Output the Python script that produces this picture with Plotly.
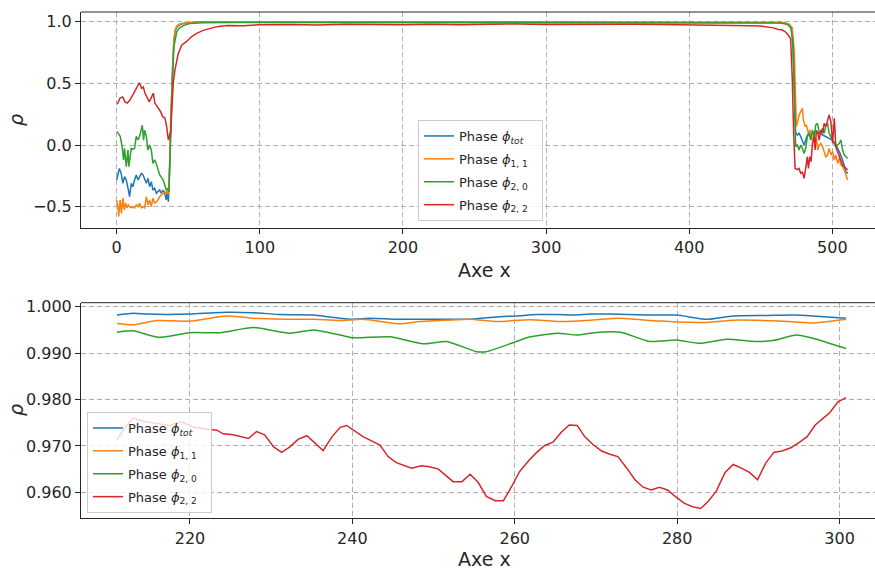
import plotly.graph_objects as go

# ---------------- data ----------------
series_names = ["Phase <i>ϕ</i><sub><i>tot</i></sub>\u00a0\u00a0",
                "Phase <i>ϕ</i><sub>1, 1</sub>\u00a0\u00a0",
                "Phase <i>ϕ</i><sub>2, 0</sub>\u00a0\u00a0",
                "Phase <i>ϕ</i><sub>2, 2</sub>\u00a0\u00a0"]
colors = ["#1f77b4", "#ff7f0e", "#2ca02c", "#d62728"]

top_blue = [(0, -0.284), (0.8, -0.24), (1.9, -0.19), (3.1, -0.23), (4.3, -0.31), (5.5, -0.257), (6.7, -0.284),
            (7.9, -0.35), (9.0, -0.418), (10.2, -0.31), (11.3, -0.338), (12.5, -0.284), (13.7, -0.243),
            (14.9, -0.284), (16.0, -0.257), (17.2, -0.23), (18.4, -0.243), (19.5, -0.27), (20.7, -0.31),
            (21.9, -0.27), (23.0, -0.338), (24.2, -0.297), (25.3, -0.365), (26.5, -0.35), (27.7, -0.392),
            (28.8, -0.378), (30.0, -0.365), (31.1, -0.39), (32.3, -0.365), (33.5, -0.39), (34.6, -0.445),
            (35.3, -0.38), (36.1, -0.46), (37, -0.2), (38, 0.25), (39, 0.62), (40, 0.85), (41, 0.93),
            (42, 0.955), (44, 0.975), (47, 0.988), (52, 0.994), (60, 0.997), (80, 0.998), (120, 0.998),
            (160, 0.998), (200, 0.998), (250, 0.998), (300, 0.998), (350, 0.998), (400, 0.998), (440, 0.997),
            (460, 0.996), (465, 0.993), (468, 0.988), (470, 0.975), (471.5, 0.94), (472.5, 0.8), (473.5, 0.45),
            (474.4, 0.1), (475.6, 0.081), (476.8, 0.095), (477.9, 0.068), (479.1, 0.027), (480.3, 0.0),
            (481.4, 0.041), (482.6, 0.081), (483.7, 0.095), (484.9, 0.068), (486.1, 0.095), (488.4, 0.108),
            (490.8, 0.095), (493.2, 0.081), (495.5, 0.068), (497.8, 0.054), (500.2, 0.041), (502.5, 0.0),
            (504.9, -0.054), (507.2, -0.122), (509.5, -0.216), (511, -0.23)]

top_orange = [(0, -0.446), (0.8, -0.5), (1.4, -0.58), (2.4, -0.446), (3.3, -0.553), (4.3, -0.43), (5.3, -0.527),
              (6.2, -0.47), (7.1, -0.51), (8.1, -0.486), (9.0, -0.5), (10.2, -0.51), (11.3, -0.5), (12.5, -0.51),
              (13.7, -0.486), (14.9, -0.5), (16.0, -0.473), (17.2, -0.51), (18.4, -0.5), (19.5, -0.51),
              (20.7, -0.42), (21.9, -0.486), (23.0, -0.446), (24.2, -0.5), (25.3, -0.43), (26.5, -0.47),
              (27.7, -0.46), (28.8, -0.446), (30.0, -0.42), (31.1, -0.405), (32.3, -0.392), (33.5, -0.378),
              (34.6, -0.392), (35.3, -0.365), (36.1, -0.4), (37, -0.15), (38, 0.3), (39, 0.65), (40, 0.87),
              (41, 0.94), (42, 0.965), (44, 0.982), (48, 0.99), (55, 0.995), (70, 0.997), (120, 0.997),
              (200, 0.997), (300, 0.997), (400, 0.997), (450, 0.996), (462, 0.994), (467, 0.99), (470, 0.98),
              (472, 0.95), (473.5, 0.75), (474.4, 0.35), (474.9, 0.15), (475.6, 0.176), (476.8, 0.243),
              (477.9, 0.27), (479.1, 0.297), (479.8, 0.203), (481.0, 0.149), (481.9, 0.162), (483.3, 0.095),
              (484.3, 0.122), (485.6, 0.04), (486.6, 0.068), (488.0, -0.014), (488.9, 0.054), (489.9, -0.041),
              (490.8, 0.0), (492.0, 0.014), (493.2, -0.014), (494.3, -0.054), (495.5, -0.095), (496.7, -0.081),
              (497.8, -0.027), (499.0, -0.081), (500.2, -0.054), (501.4, -0.122), (502.5, -0.081),
              (503.7, -0.149), (504.9, -0.108), (506.0, -0.162), (507.2, -0.176), (508.4, -0.203),
              (509.5, -0.243), (510.7, -0.284)]

top_green = [(0, 0.108), (0.8, 0.1), (2.4, 0.07), (3.8, -0.01), (4.8, -0.12), (5.5, -0.027), (6.7, -0.175),
             (7.9, -0.04), (8.5, -0.175), (10.2, -0.027), (11.3, -0.035), (12.5, -0.027), (13.7, 0.07),
             (14.9, 0.041), (16.0, 0.07), (17.2, 0.149), (17.9, 0.16), (18.8, 0.04), (19.5, 0.12), (20.7, 0.07),
             (21.8, -0.04), (23.0, 0.0), (24.2, -0.04), (25.3, -0.15), (26.5, -0.12), (27.6, -0.15), (28.8, -0.2),
             (30.0, -0.24), (31.1, -0.26), (32.3, -0.28), (33.5, -0.32), (34.6, -0.365), (35.8, -0.35),
             (36.5, -0.38), (37.2, -0.1), (38, 0.3), (39, 0.55), (40, 0.8), (41, 0.88), (42, 0.92), (44, 0.95),
             (47, 0.97), (51, 0.985), (60, 0.991), (80, 0.993), (150, 0.993), (250, 0.993), (350, 0.993),
             (430, 0.993), (455, 0.992), (462, 0.99), (466, 0.985), (469, 0.975), (471, 0.95), (472.5, 0.85),
             (473.5, 0.45), (474.4, -0.014), (475.6, 0.0), (476.8, -0.041), (477.9, 0.0), (479.1, -0.027),
             (480.3, -0.068), (481.4, -0.027), (482.6, 0.068), (483.7, 0.095), (484.9, 0.041), (486.1, 0.122),
             (487.3, 0.054), (488.4, 0.162), (489.6, 0.176), (490.8, 0.108), (492.0, 0.095), (493.2, 0.135),
             (494.3, 0.095), (495.5, 0.162), (496.7, 0.176), (497.8, 0.095), (499.0, 0.068), (500.2, 0.041),
             (502.5, -0.014), (504.9, 0.014), (506.0, 0.041), (507.2, -0.041), (508.4, -0.081), (509.5, -0.095),
             (510.7, -0.108)]

top_red = [(0.4, 0.33), (2.3, 0.38), (4.2, 0.39), (5.8, 0.35), (7.4, 0.34), (9.3, 0.365), (11.2, 0.405),
           (12.8, 0.44), (14.4, 0.47), (15.8, 0.505), (17.4, 0.46), (18.6, 0.47), (19.8, 0.42), (20.9, 0.39),
           (22.8, 0.35), (24.4, 0.39), (25.6, 0.42), (26.7, 0.34), (28.4, 0.31), (29.8, 0.28), (30.7, 0.27),
           (32.1, 0.23), (33.7, 0.22), (34.9, 0.15), (36.1, 0.04), (37.7, 0.11), (38.5, 0.3), (39.5, 0.5),
           (40.7, 0.61), (43.0, 0.74), (45.4, 0.81), (48.9, 0.84), (52.4, 0.88), (55.9, 0.905), (60.5, 0.93),
           (65.2, 0.945), (69.9, 0.96), (76.9, 0.97), (88.5, 0.968), (100, 0.975), (120, 0.978), (140, 0.974),
           (160, 0.979), (180, 0.977), (200, 0.975), (220, 0.98), (240, 0.976), (260, 0.979), (280, 0.982),
           (300, 0.978), (320, 0.98), (340, 0.976), (360, 0.979), (380, 0.977), (400, 0.975), (410, 0.973),
           (421.5, 0.97), (428.5, 0.968), (435, 0.973), (442.5, 0.968), (449.5, 0.965), (454, 0.957),
           (458.8, 0.95), (462.3, 0.937), (464.6, 0.935), (467, 0.92), (469.3, 0.89), (470.9, 0.86),
           (472, 0.55), (473, 0.1), (474, -0.19), (475.6, -0.2), (476.8, -0.19), (477.9, -0.23), (479.1, -0.22),
           (480.3, -0.27), (481.4, -0.2), (482.6, -0.095), (483.3, -0.19), (484.3, -0.095), (485.2, -0.135),
           (486.1, 0.014), (487.3, 0.068), (488.0, -0.04), (488.9, 0.12), (489.9, 0.095), (490.8, 0.04),
           (492.0, 0.12), (493.2, 0.095), (494.3, 0.176), (495.5, 0.149), (496.7, 0.203), (497.8, 0.243),
           (499.0, 0.19), (500.2, 0.014), (501.4, 0.216), (502.5, -0.014), (503.7, -0.054), (504.9, -0.095),
           (506.0, -0.122), (507.2, -0.162), (508.4, -0.176), (509.5, -0.19), (510.7, -0.203)]

bot_blue = [(211, 0.9982), (213, 0.9986), (214.7, 0.9984), (217.1, 0.9983), (220, 0.9984), (222.9, 0.9987),
            (224.5, 0.9988), (227.8, 0.9987), (231.1, 0.9983), (235.2, 0.9982), (237.2, 0.9978), (239.7, 0.9973),
            (242.2, 0.9975), (245.4, 0.9973), (249.5, 0.9973), (254.5, 0.9973), (257.8, 0.9978), (260.2, 0.9980),
            (262.7, 0.9983), (265.2, 0.9983), (267.2, 0.9982), (269.3, 0.9984), (271.7, 0.9984), (276.2, 0.9982),
            (279.9, 0.9982), (283.6, 0.9973), (286.9, 0.9980), (291, 0.9981), (294.3, 0.9982), (296.7, 0.9980),
            (300.8, 0.9975)]

bot_orange = [(211, 0.9964), (213, 0.9961), (215.9, 0.9970), (220, 0.9969), (224.5, 0.9980), (227.8, 0.9975),
              (231.9, 0.9973), (235.2, 0.9973), (238.5, 0.9970), (241.3, 0.9973), (245.8, 0.9963), (248.3, 0.9968),
              (251.6, 0.9971), (254.5, 0.9973), (257.8, 0.9968), (261.9, 0.9972), (266, 0.9968), (269.3, 0.9971),
              (272.9, 0.9975), (277.8, 0.9969), (283.6, 0.9966), (286.9, 0.9971), (292.6, 0.9969), (296.7, 0.9965),
              (300.8, 0.9973)]

bot_green = [(211, 0.9945), (213, 0.9948), (216.1, 0.9934), (220, 0.9944), (223.7, 0.9944), (227.8, 0.9955),
             (232.3, 0.9943), (235.2, 0.9950), (238.5, 0.9939), (240.1, 0.9933), (244.6, 0.9935), (248.7, 0.9920),
             (251.6, 0.9925), (255.3, 0.9903), (256.5, 0.9903), (260.2, 0.9925), (261.9, 0.9935), (265.2, 0.9943),
             (267.7, 0.9939), (269.3, 0.9943), (272.1, 0.9946), (273.3, 0.9944), (276.6, 0.9925), (279.9, 0.9928),
             (282.8, 0.9921), (286.1, 0.9930), (289.7, 0.9925), (291.8, 0.9927), (294.7, 0.9939), (296.7, 0.9932),
             (298.4, 0.9923), (300.8, 0.9910)]

bot_red = [(211.0, 0.9713), (212.0, 0.9740), (213.0, 0.9760), (214.5, 0.9752), (216.0, 0.9748), (217.5, 0.9744),
           (219.0, 0.9752), (220.5, 0.9740), (222.2, 0.9736), (223.3, 0.9734), (224.1, 0.9726), (225.3, 0.9724),
           (227.2, 0.9716), (228.2, 0.9731), (229.2, 0.9724), (230.3, 0.9698), (231.3, 0.9686), (232.3, 0.9698),
           (233.3, 0.9714), (234.4, 0.9722), (235.4, 0.9706), (236.4, 0.9690), (237.5, 0.9720), (238.5, 0.9740),
           (239.3, 0.9744), (241.3, 0.9720), (243.4, 0.9702), (244.4, 0.9677), (245.4, 0.9664), (247.3, 0.9652),
           (248.5, 0.9657), (249.5, 0.9655), (250.6, 0.9650), (252.4, 0.9623), (253.5, 0.9623), (254.5, 0.9639),
           (255.5, 0.9621), (256.5, 0.9591), (257.6, 0.9582), (258.6, 0.9582), (259.6, 0.9612), (260.6, 0.9645),
           (261.7, 0.9668), (262.7, 0.9686), (263.7, 0.9701), (264.7, 0.9708), (265.7, 0.9729), (266.7, 0.9745),
           (267.7, 0.9744), (268.6, 0.9720), (269.7, 0.9702), (270.7, 0.9689), (271.7, 0.9682), (272.7, 0.9677),
           (273.8, 0.9652), (274.8, 0.9627), (275.8, 0.9611), (276.8, 0.9605), (277.8, 0.9611), (278.8, 0.9605),
           (279.9, 0.9589), (280.9, 0.9576), (281.9, 0.9569), (282.9, 0.9565), (283.8, 0.9580), (284.8, 0.9602),
           (285.9, 0.9643), (286.9, 0.9660), (287.9, 0.9652), (288.9, 0.9643), (289.9, 0.9627), (290.9, 0.9663),
           (291.9, 0.9686), (292.9, 0.9689), (294.0, 0.9696), (295.0, 0.9707), (296.0, 0.9720), (297.0, 0.9745),
           (298.0, 0.9760), (298.8, 0.9772), (299.8, 0.9795), (300.8, 0.9804)]

top_xticks = [0, 100, 200, 300, 400, 500]
top_yticks = [-0.5, 0.0, 0.5, 1.0]
bot_xticks = [220, 240, 260, 280, 300]
bot_yticks = [0.96, 0.97, 0.98, 0.99, 1.00]
x_label = "Axe x"
y_label = "<i>ρ</i>"

# ---------------- figure ----------------
W, H = 875, 569
FONT = "DejaVu Sans"
INK = "#262626"
fig = go.Figure()

top_series = [top_blue, top_orange, top_green, top_red]
bot_series = [bot_blue, bot_orange, bot_green, bot_red]
for i, (name, col, s) in enumerate(zip(series_names, colors, top_series)):
    fig.add_trace(go.Scatter(x=[p[0] for p in s], y=[p[1] for p in s], mode="lines", name=name,
                             line=dict(color=col, width=1.5), xaxis="x", yaxis="y", legend="legend",
                             legendgroup="t%d" % i))
for i, (name, col, s) in enumerate(zip(series_names, colors, bot_series)):
    fig.add_trace(go.Scatter(x=[p[0] for p in s], y=[p[1] for p in s], mode="lines", name=name,
                             line=dict(color=col, width=1.5, shape="spline" if i < 3 else "linear",
                                       smoothing=0.6),
                             xaxis="x2", yaxis="y2", legend="legend2", legendgroup="b%d" % i))

axis_common = dict(showline=True, linecolor=INK, linewidth=1, ticks="outside", ticklen=5,
                   tickwidth=1, tickcolor=INK, showgrid=True, gridcolor="#b0b0b0", griddash="5px,3px",
                   gridwidth=1, zeroline=False, tickfont=dict(family=FONT, size=16, color=INK),
                   automargin=False, mirror=False)

XDOM = [81 / W, 1.0]
TOPDOM = [1 - 228 / H, 1 - 12 / H]
BOTDOM = [1 - 518.3 / H, 1 - 302.7 / H]

legend_common = dict(xanchor="left", yanchor="top", bgcolor="rgba(255,255,255,0.8)",
                     bordercolor="#cccccc", borderwidth=1, font=dict(family=FONT, size=13, color=INK),
                     tracegroupgap=3, itemwidth=30)

fig.update_layout(
    width=W, height=H, margin=dict(l=0, r=0, t=0, b=0),
    paper_bgcolor="white", plot_bgcolor="white",
    font=dict(family=FONT, color=INK),
    xaxis=dict(axis_common, domain=XDOM, range=[-24.94, 529.84], tickvals=top_xticks, anchor="y"),
    yaxis=dict(axis_common, domain=TOPDOM, range=[-0.673, 1.0787], tickvals=top_yticks, tickformat=".1f",
               anchor="x"),
    xaxis2=dict(axis_common, domain=XDOM, range=[206.58, 304.36], tickvals=bot_xticks, anchor="y2"),
    yaxis2=dict(axis_common, domain=BOTDOM, range=[0.9544, 1.00086], tickvals=bot_yticks, tickformat=".3f",
                anchor="x2"),
    legend=dict(legend_common, x=418 / W, y=1 - 120 / H),
    legend2=dict(legend_common, x=87 / W, y=1 - 412 / H),
    showlegend=True,
)

# top spines of both panels (the right spine lies outside the cropped picture)
for dom in (TOPDOM, BOTDOM):
    fig.add_shape(type="line", xref="paper", yref="paper", x0=XDOM[0], x1=1.0, y0=dom[1], y1=dom[1],
                  line=dict(color=INK, width=1), layer="above")

ann_font = dict(family=FONT, size=19, color=INK)
fig.add_annotation(text=x_label, x=484 / W, y=1 - 270 / H, xref="paper", yref="paper", showarrow=False,
                   font=ann_font, xanchor="center", yanchor="middle")
fig.add_annotation(text=x_label, x=484 / W, y=1 - 559 / H, xref="paper", yref="paper", showarrow=False,
                   font=ann_font, xanchor="center", yanchor="middle")
fig.add_annotation(text=y_label, x=16 / W, y=1 - 120 / H, xref="paper", yref="paper", showarrow=False,
                   font=ann_font, textangle=-90, xanchor="center", yanchor="middle")
fig.add_annotation(text=y_label, x=16 / W, y=1 - 410 / H, xref="paper", yref="paper", showarrow=False,
                   font=ann_font, textangle=-90, xanchor="center", yanchor="middle")

fig.write_html("out.html", config={"displayModeBar": False},
               post_script="document.body.style.margin='0';document.body.style.overflow='hidden';")
